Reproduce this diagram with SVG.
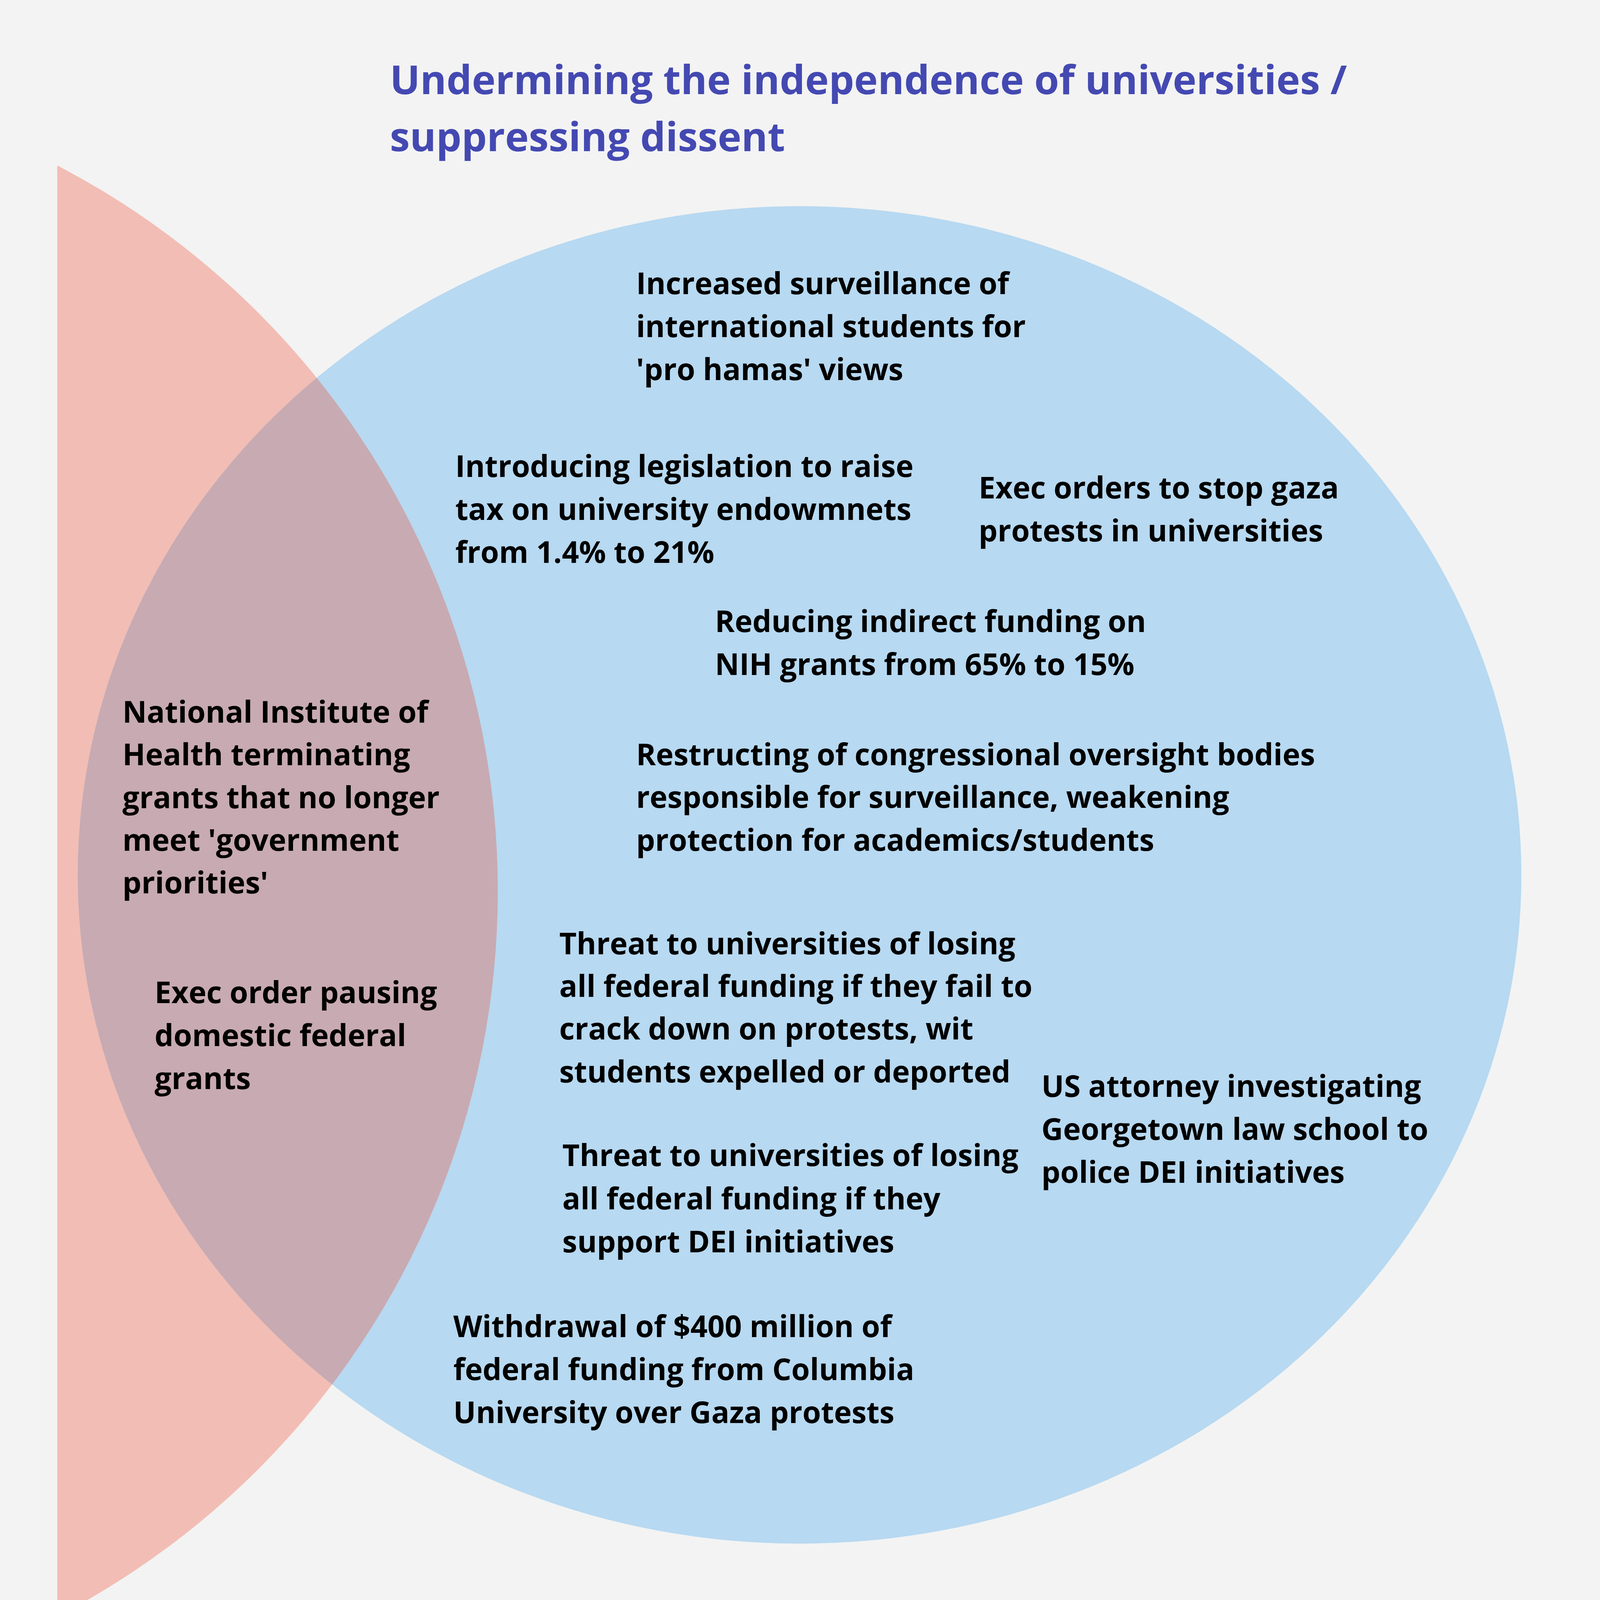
<svg xmlns="http://www.w3.org/2000/svg" width="6744" height="7264" viewBox="0 0 6744 7264">
<style>
svg{width:100vw;height:100vh;background:#f3f3f3;overflow:hidden}
.t{font-family:"Open Sans","Noto Sans","Liberation Sans",sans-serif;font-weight:700;font-size:136px;fill:#000}
.title{font-family:"Open Sans","Noto Sans","Liberation Sans",sans-serif;font-weight:700;font-size:182px;fill:#4449b2}
</style>
<defs>
<clipPath id="pageClip"><rect width="6744" height="7264"/></clipPath>
<clipPath id="blueClip"><ellipse cx="3370" cy="3972" rx="3277" ry="3036"/></clipPath>
</defs>
<g clip-path="url(#pageClip)">
<rect width="6744" height="7264" fill="#f3f3f3"/>
<g id="set-red"><circle cx="-1712" cy="4045" r="3712" fill="#f2bdb4"/></g>
<g id="set-blue"><ellipse cx="3370" cy="3972" rx="3277" ry="3036" fill="#b7d9f1"/></g>
<g id="overlap"><circle cx="-1712" cy="4045" r="3712" fill="#c8aab2" clip-path="url(#blueClip)"/></g>
<g id="connectors"/>
<g id="title"><text class="title"><tspan x="1510" y="427">Undermining the independence of universities /</tspan><tspan x="1510" y="687">suppressing dissent</tspan></text></g>
<g id="n1"><text class="t"><tspan x="2628" y="1336">Increased surveillance of</tspan><tspan x="2628" y="1531">international students for</tspan><tspan x="2628" y="1725">'pro hamas' views</tspan></text></g>
<g id="n2"><text class="t"><tspan x="1807" y="2166">Introducing legislation to raise</tspan><tspan x="1807" y="2361">tax on university endowmnets</tspan><tspan x="1807" y="2555">from 1.4% to 21%</tspan></text></g>
<g id="n3"><text class="t"><tspan x="4183" y="2263">Exec orders to stop gaza</tspan><tspan x="4183" y="2458">protests in universities</tspan></text></g>
<g id="n4"><text class="t"><tspan x="2986" y="2870">Reducing indirect funding on</tspan><tspan x="2986" y="3064">NIH grants from 65% to 15%</tspan></text></g>
<g id="n5"><text class="t"><tspan x="2628" y="3474">Restructing of congressional oversight bodies</tspan><tspan x="2628" y="3668">responsible for surveillance, weakening</tspan><tspan x="2628" y="3862">protection for academics/students</tspan></text></g>
<g id="n6"><text class="t"><tspan x="296" y="3280">National Institute of</tspan><tspan x="296" y="3475">Health terminating</tspan><tspan x="296" y="3669">grants that no longer</tspan><tspan x="296" y="3863">meet 'government</tspan><tspan x="296" y="4056">priorities'</tspan></text></g>
<g id="n7"><text class="t"><tspan x="442" y="4554">Exec order pausing</tspan><tspan x="442" y="4749">domestic federal</tspan><tspan x="442" y="4944">grants</tspan></text></g>
<g id="n8"><text class="t"><tspan x="2279" y="4332">Threat to universities of losing</tspan><tspan x="2279" y="4525">all federal funding if they fail to</tspan><tspan x="2279" y="4719">crack down on protests, wit</tspan><tspan x="2279" y="4914">students expelled or deported</tspan></text></g>
<g id="n9"><text class="t"><tspan x="4468" y="4980">US attorney investigating</tspan><tspan x="4468" y="5175">Georgetown law school to</tspan><tspan x="4468" y="5370">police DEI initiatives</tspan></text></g>
<g id="n10"><text class="t"><tspan x="2293" y="5294">Threat to universities of losing</tspan><tspan x="2293" y="5490">all federal funding if they</tspan><tspan x="2293" y="5686">support DEI initiatives</tspan></text></g>
<g id="n11"><text class="t"><tspan x="1798" y="6070">Withdrawal of $400 million of</tspan><tspan x="1798" y="6266">federal funding from Columbia</tspan><tspan x="1798" y="6461">University over Gaza protests</tspan></text></g>
</g>
</svg>
